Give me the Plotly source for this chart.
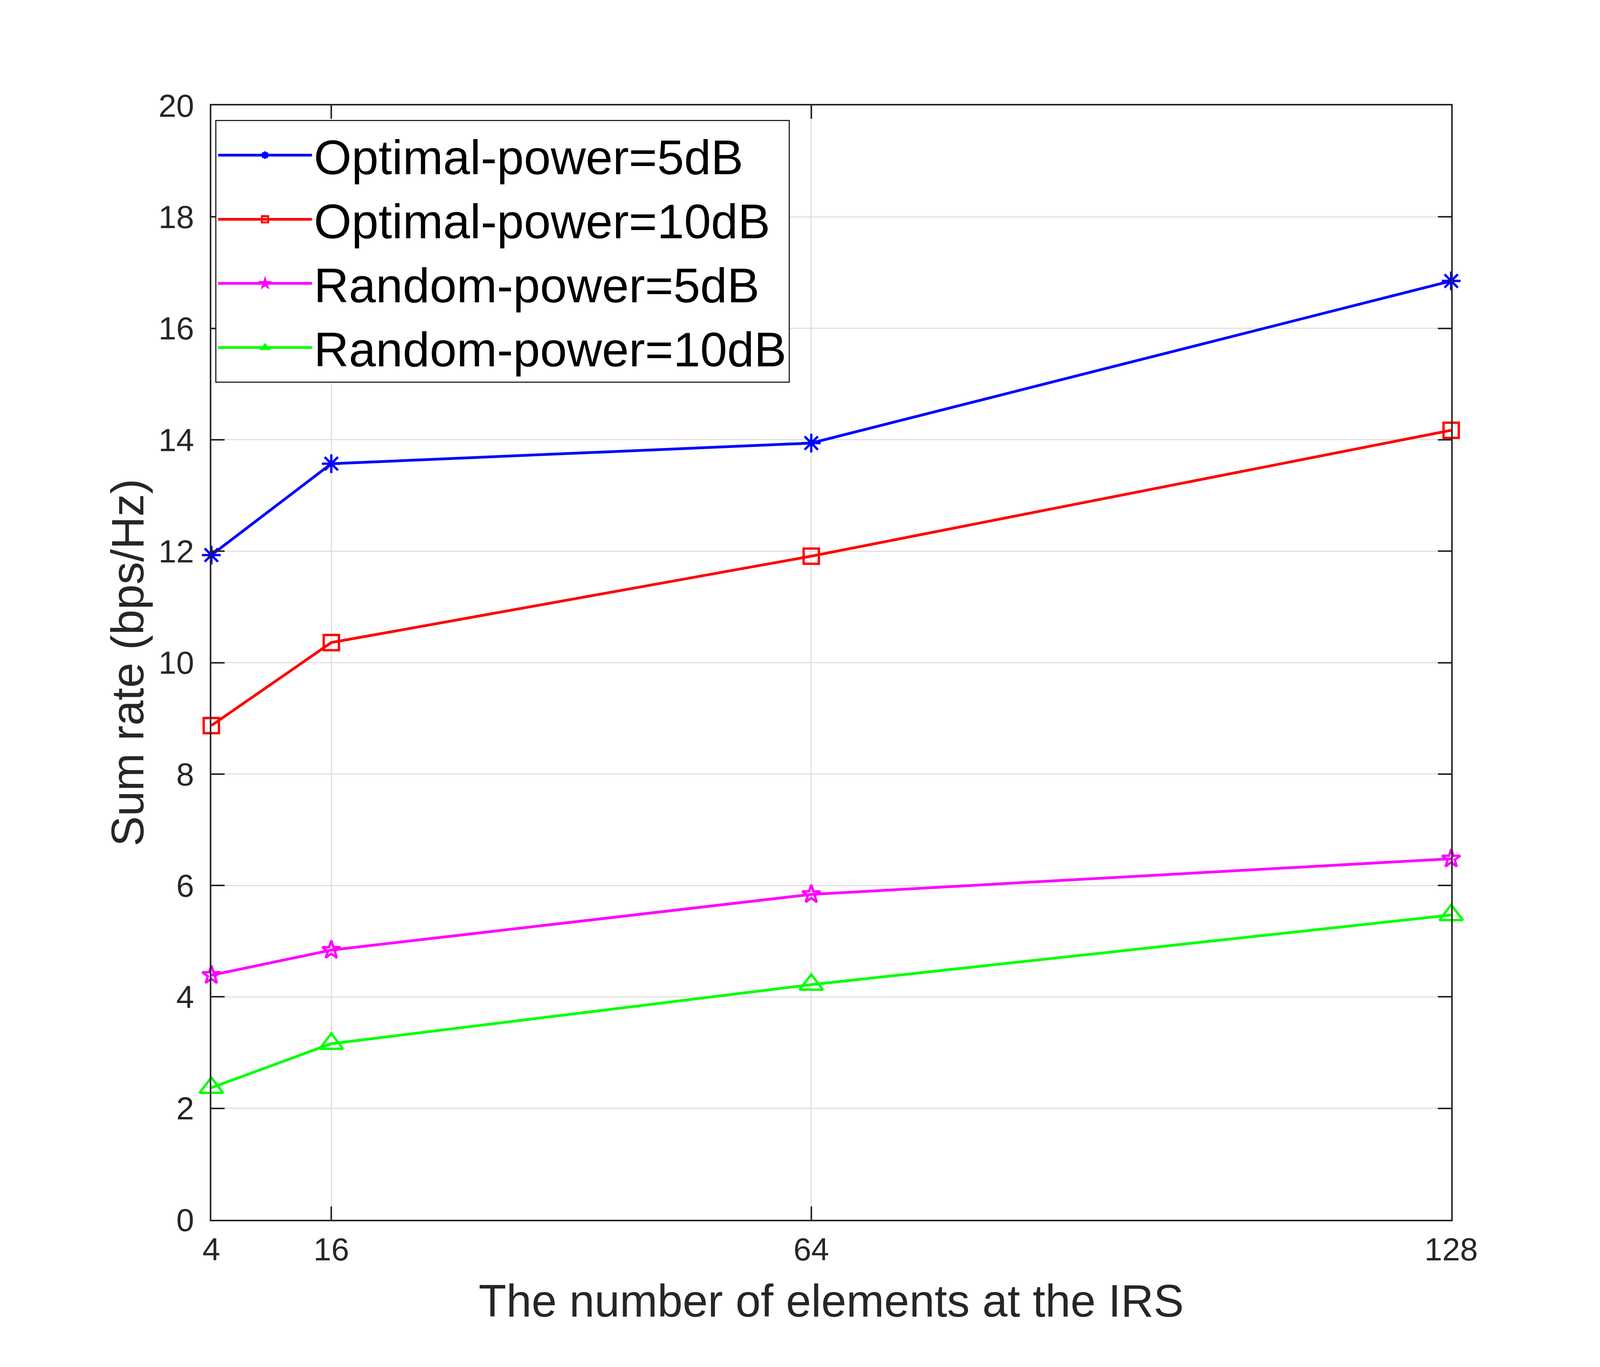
import plotly.graph_objects as go

# number of IRS elements
elements = [4, 16, 64, 128]

# sum rate (bps/Hz)
optimal_5db = [11.93, 13.57, 13.94, 16.85]
optimal_10db = [8.87, 10.36, 11.91, 14.17]
random_5db = [4.39, 4.84, 5.84, 6.48]
random_10db = [2.37, 3.16, 4.22, 5.47]

y_ticks = list(range(0, 21, 2))

series = [
    ("Optimal-power=5dB", optimal_5db, "#0000ff", "asterisk-open", 40),
    ("Optimal-power=10dB", optimal_10db, "#ff0000", "square-open", 39),
    ("Random-power=5dB", random_5db, "#ff00ff", "star-open", 35),
    ("Random-power=10dB", random_10db, "#00ff00", "triangle-up-open", 52),
]

fig = go.Figure()
for name, vals, col, sym, sz in series:
    fig.add_trace(go.Scatter(
        x=elements, y=vals, name=name, mode="lines+markers",
        line=dict(color=col, width=7),
        marker=dict(symbol=sym, size=sz, color=col,
                    line=dict(color=col, width=6)),
        cliponaxis=False,
    ))

axis_col = "#262626"
grid_col = "#e0e0e0"

# the page is shown in a 4096 px wide viewport
fig.update_layout(
    width=4096, height=3500,
    paper_bgcolor="white", plot_bgcolor="white",
    margin=dict(l=533, r=389, t=262, b=385),
    font=dict(family="Liberation Sans, Arial, Helvetica", color=axis_col),
    showlegend=True,
    legend=dict(
        x=0.003, y=0.987, xanchor="left", yanchor="top",
        bgcolor="white", bordercolor="#262626", borderwidth=3,
        font=dict(size=124, color="black"),
        itemwidth=240, tracegroupgap=0,
    ),
)

fig.update_xaxes(
    range=[4, 128], tickvals=elements, ticktext=[str(v) for v in elements],
    showline=True, linecolor=axis_col, linewidth=3.5, mirror="ticks",
    ticks="inside", ticklen=34, tickwidth=3.5, tickcolor=axis_col,
    showgrid=True, gridcolor=grid_col, gridwidth=3,
    zeroline=False,
    tickfont=dict(size=82, color=axis_col), ticklabelstandoff=2,
    title=dict(text="The number of elements at the IRS",
               font=dict(size=116, color=axis_col), standoff=48),
)
fig.update_yaxes(
    range=[0, 20], tickvals=y_ticks,
    showline=True, linecolor=axis_col, linewidth=3.5, mirror="ticks",
    ticks="inside", ticklen=34, tickwidth=3.5, tickcolor=axis_col,
    showgrid=True, gridcolor=grid_col, gridwidth=3,
    zeroline=False,
    tickfont=dict(size=82, color=axis_col), ticklabelstandoff=24,
    title=dict(text="Sum rate (bps/Hz)",
               font=dict(size=116, color=axis_col), standoff=0),
)

fig.write_html("out.html")
